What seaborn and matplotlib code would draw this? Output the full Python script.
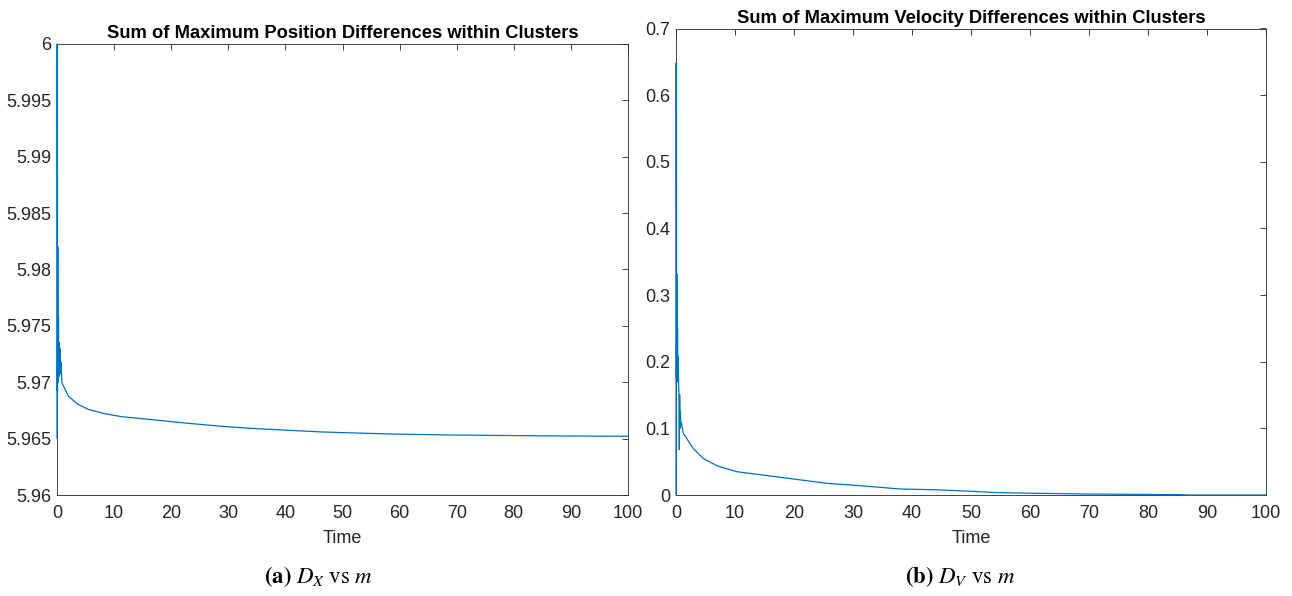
import numpy as np
import pandas as pd
import matplotlib
matplotlib.use("Agg")
import matplotlib.pyplot as plt
from matplotlib.ticker import FormatStrFormatter, MultipleLocator
import seaborn as sns

# ---------------- data ----------------
t_pos = [0, 0.03, 0.08, 0.14, 0.2, 0.26, 0.32, 0.38, 0.45, 0.52, 0.6, 0.7, 0.85,
         1.4, 2.0, 3.7, 5.5, 8.4, 11.3, 17.2, 23, 28.8, 34.7, 40.5, 46.4,
         52.2, 59.5, 69.3, 80, 87.7, 100]
d_pos = [5.965, 6.0, 5.9692, 5.982, 5.9700, 5.9757, 5.9705, 5.9735, 5.9712,
         5.9730, 5.9708, 5.9718, 5.96995, 5.9694, 5.96876, 5.96803, 5.96759,
         5.96721, 5.96695, 5.96665, 5.96636, 5.96609, 5.96589, 5.96574,
         5.96559, 5.96550, 5.96540, 5.96532, 5.96527, 5.96524, 5.96521]

t_vel = [0, 0.03, 0.08, 0.14, 0.2, 0.26, 0.32, 0.38, 0.44, 0.5, 0.56, 0.62,
         0.68, 0.74, 0.82, 0.92, 1.24, 2.9, 4.6, 6.9, 10.3, 14.2, 19.9, 25.6,
         31.2, 38, 44.2, 49.8, 53.8, 60, 69.4, 85.8, 86.5, 100]
d_vel = [0.0, 0.648, 0.175, 0.332, 0.18, 0.25, 0.17, 0.208, 0.168, 0.15,
         0.068, 0.15, 0.10, 0.125, 0.105, 0.108, 0.0925, 0.070, 0.055, 0.044,
         0.035, 0.0305, 0.024, 0.0175, 0.014, 0.009, 0.0078, 0.0057, 0.0038,
         0.0027, 0.0015, 0.0005, 0.0, 0.0]

titles = ["Sum of Maximum Position Differences within Clusters",
          "Sum of Maximum Velocity Differences within Clusters"]
captions = [r"$\mathbf{(a)}\ D_X\ \mathrm{vs}\ m$",
            r"$\mathbf{(b)}\ D_V\ \mathrm{vs}\ m$"]
xlabel = "Time"

# ---------------- style ----------------
sns.set_theme(style="white")
plt.rcParams["font.family"] = ["Liberation Sans", "DejaVu Sans"]
plt.rcParams["mathtext.fontset"] = "stix"
TXT = "#262626"
LINE = "#0072BD"

W, H = 1292, 596
fig = plt.figure(figsize=(W / 100, H / 100), dpi=100)
fig.patch.set_facecolor("white")

def px_axes(x0, x1, ytop, ybot):
    return fig.add_axes([x0 / W, (H - ybot) / H, (x1 - x0) / W, (ybot - ytop) / H])

ax1 = px_axes(57, 628, 44, 495)
ax2 = px_axes(676, 1266, 28.5, 495)

df1 = pd.DataFrame({"Time": t_pos, "D": d_pos})
df2 = pd.DataFrame({"Time": t_vel, "D": d_vel})

sns.lineplot(data=df1, x="Time", y="D", ax=ax1, color=LINE, lw=0.9,
             estimator=None, sort=False, zorder=3, clip_on=False)
sns.lineplot(data=df2, x="Time", y="D", ax=ax2, color=LINE, lw=0.9,
             estimator=None, sort=False, zorder=3, clip_on=False)

ax1.set_ylim(5.96, 6.0)
ax1.yaxis.set_major_locator(MultipleLocator(0.005))
ax2.set_ylim(0, 0.7)
ax2.yaxis.set_major_locator(MultipleLocator(0.1))

for ax, title in zip([ax1, ax2], titles):
    ax.set_xlim(0, 100)
    ax.xaxis.set_major_locator(MultipleLocator(10))
    ax.yaxis.set_major_formatter(FormatStrFormatter("%g"))
    ax.xaxis.set_major_formatter(FormatStrFormatter("%g"))
    ax.set_facecolor("white")
    for s in ax.spines.values():
        s.set_visible(True)
        s.set_color(TXT)
        s.set_linewidth(0.6)
        s.set_zorder(2)
    ax.tick_params(direction="in", top=True, right=True, length=4,
                   width=0.6, color=TXT, labelcolor=TXT, labelsize=13)
    ax.tick_params(axis="y", pad=4)
    ax.tick_params(axis="x", pad=7)
    ax.set_title(title, fontsize=13.2, fontweight="bold", color="black", pad=4)
    ax.set_xlabel(xlabel, fontsize=13, color=TXT, labelpad=6)
    ax.set_ylabel("")
    ax.grid(False)

fig.text(318 / W, 1 - 577 / H, captions[0], ha="center", va="center",
         fontsize=16.5, color="black")
fig.text(960 / W, 1 - 577 / H, captions[1], ha="center", va="center",
         fontsize=16.5, color="black")

fig.savefig("out.png", dpi=100, facecolor="white")
